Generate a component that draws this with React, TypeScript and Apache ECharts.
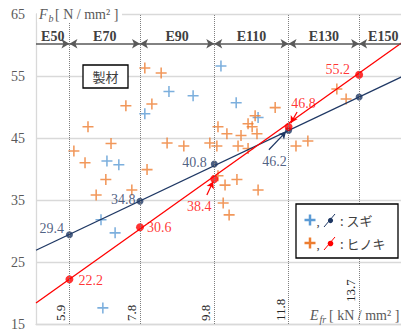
import React, { useEffect, useRef } from "react";
import * as echarts from "echarts";

// ---- data ----
const gradeBounds = [5.9, 7.8, 9.8, 11.8, 13.7];
const gradeNames = ["E50", "E70", "E90", "E110", "E130", "E150"];
const gradeSpans = [
  [5.0, 5.9],
  [5.9, 7.8],
  [7.8, 9.8],
  [9.8, 11.8],
  [11.8, 13.7],
  [13.7, 15.0],
];
const fitE = [5.9, 7.8, 9.8, 11.8, 13.7];
const sugiFit = [29.4, 34.8, 40.8, 46.2, 51.6];
const hinokiFit = [22.2, 30.6, 38.4, 46.8, 55.2];
const sugiLineEnds = [
  [5.0, 26.9],
  [15.0, 55.3],
];
const hinokiLineEnds = [
  [5.0, 18.4],
  [15.0, 61.0],
];
const sugiE = [9.98, 8.58, 9.23, 10.39, 7.93, 10.98, 6.91, 7.23, 6.75, 7.13, 6.8];
const sugiFb = [56.6, 52.5, 51.8, 50.7, 48.9, 48.3, 41.3, 40.7, 31.8, 29.7, 17.6];
const hinokiE = [
  7.93, 8.37, 7.42, 8.12, 6.4, 6.02, 7.02, 6.32, 7.99, 6.88, 6.62, 7.58, 8.53, 8.98,
  9.68, 9.9, 10.14, 10.52, 10.71, 10.82, 10.9, 10.95, 9.87, 10.44, 10.71, 11.44, 12.0,
  12.32, 13.1, 13.35, 9.9, 10.09, 10.41, 10.98, 10.04, 10.2,
];
const hinokiFb = [
  56.3, 55.5, 50.2, 50.5, 46.8, 42.9, 44.1, 41.0, 39.9, 38.3, 35.8, 36.6, 44.2, 43.7,
  44.2, 46.8, 45.7, 45.4, 47.3, 46.8, 48.6, 45.7, 43.7, 43.7, 43.3, 49.9, 43.7, 44.5,
  52.9, 51.3, 38.9, 37.4, 38.3, 36.6, 34.5, 32.6,
];

// ---- annotation placement ----
const headerArrowY = 60.2;
const sugiArrow = [
  [11.27, 43.1],
  [11.73, 46.0],
];
const hinokiArrows = [
  [
    [9.6, 35.8],
    [9.77, 38.0],
  ],
  [
    [12.03, 49.2],
    [11.86, 47.4],
  ],
];
const sugiLabelCfg: any[] = [
  { position: "left", distance: 2, offset: [0, -6] },
  { position: "left", distance: 1, offset: [0, -2] },
  { position: "left", distance: 4, offset: [0, -2] },
  { position: "inside", offset: [-14, 31] },
  { show: false },
];
const hinokiLabelCfg: any[] = [
  { position: "right", distance: 5, offset: [0, 1] },
  { position: "right", distance: 3, offset: [0, 0] },
  { position: "inside", offset: [-15, 28] },
  { position: "inside", offset: [15, -23] },
  { position: "left", distance: 5, offset: [0, -5] },
];

const NAVY = "#1f3864";
const RED = "#ff0000";
const BLUE = "#5b9bd5";
const ORANGE = "#ed7d31";
const SERIF = "'Liberation Serif', 'Times New Roman', serif";
const CJK = "'Noto Sans CJK JP', 'Noto Sans', sans-serif";
const CROSS = "path://M4.3,0H5.7V4.3H10V5.7H5.7V10H4.3V5.7H0V4.3H4.3Z";

function plus(cx: number, cy: number, color: string) {
  return [
    { type: "rect", shape: { x: cx - 5.5, y: cy - 1.25, width: 11, height: 2.5 }, style: { fill: color } },
    { type: "rect", shape: { x: cx - 1.25, y: cy - 5.5, width: 2.5, height: 11 }, style: { fill: color } },
  ];
}

function buildOption(): any {
  const fmt = (p: any) => Number(p.value[1]).toFixed(1);
  return {
    animation: false,
    backgroundColor: "#ffffff",
    grid: { left: 36, top: 14, right: 2.6, bottom: 9, containLabel: false },
    xAxis: {
      type: "value",
      min: 5,
      max: 15,
      axisLabel: { show: false },
      axisTick: { show: false },
      splitLine: { show: false },
      axisLine: { show: true, lineStyle: { color: "#d9d9d9", width: 1.3 } },
    },
    yAxis: {
      type: "value",
      min: 15,
      max: 65,
      interval: 10,
      axisLabel: { fontFamily: SERIF, fontSize: 14, color: "#595959", margin: 11 },
      axisTick: { show: false },
      axisLine: { show: true, lineStyle: { color: "#d9d9d9", width: 1.3 } },
      splitLine: { show: true, lineStyle: { color: "#d9d9d9", width: 1.3 } },
    },
    series: [
      {
        name: "スギ",
        type: "scatter",
        symbol: CROSS,
        symbolSize: 11,
        itemStyle: { color: BLUE },
        data: sugiE.map((e, i) => [e, sugiFb[i]]),
        z: 2,
        markLine: {
          silent: true,
          symbol: ["none", "none"],
          emphasis: { disabled: true },
          lineStyle: { type: "dotted", color: "#7f7f7f", width: 1 },
          label: {
            show: true,
            position: "insideStartTop",
            formatter: "{c}",
            distance: [3, 2],
            fontFamily: SERIF,
            fontSize: 13,
            color: "#262626",
          },
          data: gradeBounds.map((b, i) =>
            i === gradeBounds.length - 1 ? { xAxis: b, label: { distance: [22, 2] } } : { xAxis: b }
          ),
        },
      },
      {
        name: "ヒノキ",
        type: "scatter",
        symbol: CROSS,
        symbolSize: 11,
        itemStyle: { color: ORANGE },
        data: hinokiE.map((e, i) => [e, hinokiFb[i]]),
        z: 2,
        markLine: {
          silent: true,
          emphasis: { disabled: true },
          symbolSize: [7, 8],
          lineStyle: { type: "solid", color: "#595959", width: 1.5 },
          label: {
            show: true,
            position: "middle",
            formatter: "{b}",
            distance: 0,
            fontFamily: SERIF,
            fontSize: 14,
            fontWeight: "bold",
            color: "#404040",
          },
          data: gradeSpans.map((s, i) => [
            {
              name: gradeNames[i],
              coord: [s[0], headerArrowY],
              symbol: i === 0 ? "none" : "arrow",
            },
            {
              coord: [s[1], headerArrowY],
              symbol: i === gradeSpans.length - 1 ? "none" : "arrow",
            },
          ]),
        },
      },
      {
        name: "スギ回帰",
        type: "line",
        data: sugiLineEnds,
        showSymbol: false,
        symbol: "none",
        lineStyle: { color: NAVY, width: 1.3 },
        z: 3,
        markLine: {
          silent: true,
          emphasis: { disabled: true },
          symbol: ["none", "arrow"],
          symbolSize: [6, 7],
          label: { show: false },
          lineStyle: { type: "solid", color: NAVY, width: 1.2 },
          data: [[{ coord: sugiArrow[0] }, { coord: sugiArrow[1] }]],
        },
      },
      {
        name: "ヒノキ回帰",
        type: "line",
        data: hinokiLineEnds,
        showSymbol: false,
        symbol: "none",
        lineStyle: { color: RED, width: 1.3 },
        z: 3,
        markLine: {
          silent: true,
          emphasis: { disabled: true },
          symbol: ["none", "arrow"],
          symbolSize: [6, 7],
          label: { show: false },
          lineStyle: { type: "solid", color: RED, width: 1.2 },
          data: hinokiArrows.map((a) => [{ coord: a[0] }, { coord: a[1] }]),
        },
      },
      {
        name: "スギ点",
        type: "scatter",
        symbol: "circle",
        symbolSize: 7,
        itemStyle: { color: NAVY },
        z: 4,
        label: { show: true, formatter: fmt, fontFamily: SERIF, fontSize: 14, color: NAVY },
        data: fitE.map((e, i) => ({ value: [e, sugiFit[i]], label: sugiLabelCfg[i] })),
      },
      {
        name: "ヒノキ点",
        type: "scatter",
        symbol: "circle",
        symbolSize: 8,
        itemStyle: { color: RED },
        z: 4,
        label: { show: true, formatter: fmt, fontFamily: SERIF, fontSize: 14, color: RED },
        data: fitE.map((e, i) => ({ value: [e, hinokiFit[i]], label: hinokiLabelCfg[i] })),
      },
    ],
    graphic: [
      // y-axis title
      { type: "rect", shape: { x: 37, y: 7, width: 85, height: 15 }, style: { fill: "#ffffff" }, z: 50 },
      {
        type: "text",
        x: 39,
        y: 14,
        z: 51,
        style: { text: "F", fontFamily: SERIF, fontStyle: "italic", fontSize: 14, fill: "#595959", verticalAlign: "middle" },
      },
      {
        type: "text",
        x: 48.5,
        y: 18,
        z: 51,
        style: { text: "b", fontFamily: SERIF, fontStyle: "italic", fontSize: 10, fill: "#595959", verticalAlign: "middle" },
      },
      {
        type: "text",
        x: 55,
        y: 14,
        z: 51,
        style: { text: "[ N / mm² ]", fontFamily: SERIF, fontSize: 14, fill: "#595959", verticalAlign: "middle" },
      },
      // x-axis title
      {
        type: "text",
        x: 310,
        y: 315,
        z: 51,
        style: { text: "E", fontFamily: SERIF, fontStyle: "italic", fontSize: 14, fill: "#595959", verticalAlign: "middle" },
      },
      {
        type: "text",
        x: 319.5,
        y: 319,
        z: 51,
        style: { text: "fr", fontFamily: SERIF, fontStyle: "italic", fontSize: 10, fill: "#595959", verticalAlign: "middle" },
      },
      {
        type: "text",
        x: 329,
        y: 315,
        z: 51,
        style: { text: "[ kN / mm² ]", fontFamily: SERIF, fontSize: 14, fill: "#595959", verticalAlign: "middle" },
      },
      // 製材 box
      {
        type: "rect",
        z: 50,
        shape: { x: 83, y: 65, width: 45, height: 23 },
        style: { fill: "#ffffff", stroke: "#000000", lineWidth: 1.3 },
      },
      {
        type: "text",
        z: 51,
        x: 105.5,
        y: 76.5,
        style: { text: "製材", fontFamily: CJK, fontSize: 13, fill: "#404040", align: "center", verticalAlign: "middle" },
      },
      // legend box
      {
        type: "rect",
        z: 50,
        shape: { x: 296, y: 204, width: 102, height: 54 },
        style: { fill: "#ffffff", stroke: "#000000", lineWidth: 1.3 },
      },
      ...plus(310, 220, BLUE).map((e) => ({ ...e, z: 51 })),
      ...plus(310, 243, ORANGE).map((e) => ({ ...e, z: 51 })),
      { type: "text", z: 51, x: 316.5, y: 221, style: { text: ",", fontFamily: SERIF, fontSize: 13, fill: "#404040", verticalAlign: "middle" } },
      { type: "text", z: 51, x: 316.5, y: 244, style: { text: ",", fontFamily: SERIF, fontSize: 13, fill: "#404040", verticalAlign: "middle" } },
      { type: "line", z: 51, shape: { x1: 324, y1: 227, x2: 335, y2: 214 }, style: { stroke: NAVY, lineWidth: 1 } },
      { type: "circle", z: 52, shape: { cx: 330.5, cy: 220.5, r: 2.6 }, style: { fill: NAVY } },
      { type: "line", z: 51, shape: { x1: 324, y1: 250, x2: 335, y2: 237 }, style: { stroke: RED, lineWidth: 1 } },
      { type: "circle", z: 52, shape: { cx: 330.5, cy: 243.5, r: 2.8 }, style: { fill: RED } },
      {
        type: "text",
        z: 51,
        x: 340,
        y: 220.5,
        style: { text: ": スギ", fontFamily: CJK, fontSize: 13, fill: "#404040", verticalAlign: "middle" },
      },
      {
        type: "text",
        z: 51,
        x: 340,
        y: 243.5,
        style: { text: ": ヒノキ", fontFamily: CJK, fontSize: 13, fill: "#404040", verticalAlign: "middle" },
      },
    ],
  };
}

export default function App() {
  const ref = useRef<HTMLDivElement>(null);
  useEffect(() => {
    if (!ref.current) return;
    const chart = echarts.init(ref.current, null, { renderer: "svg" });
    chart.setOption(buildOption());
    return () => chart.dispose();
  }, []);
  return (
    <div
      ref={ref}
      style={{ position: "fixed", left: 0, top: 0, width: 410, height: 333, background: "#ffffff" }}
    />
  );
}
